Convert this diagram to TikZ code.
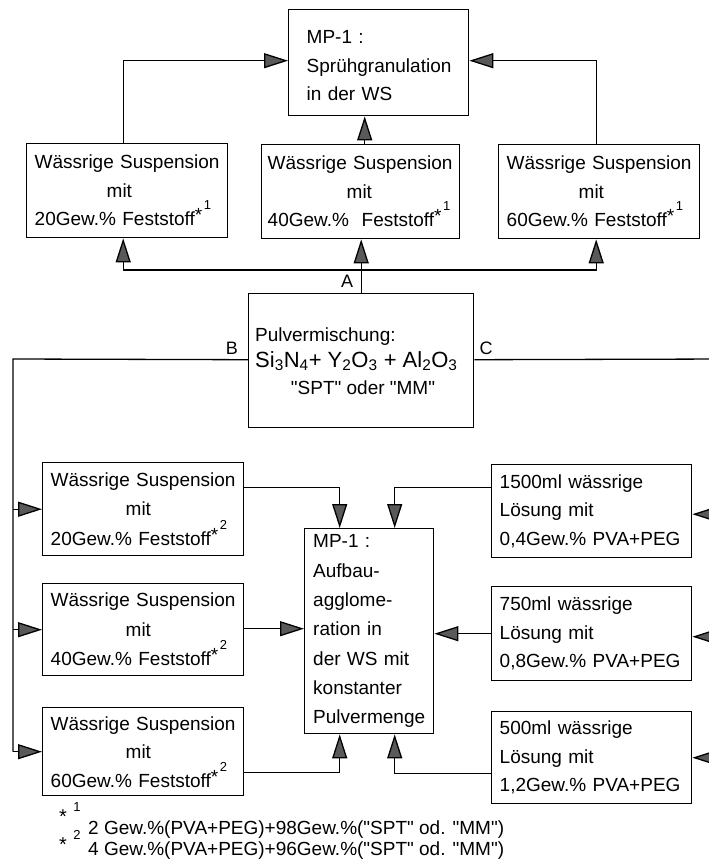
\documentclass[tikz,border=0pt]{standalone}
\usepackage{fontspec}
\setmainfont{Liberation Sans}[Ligatures=TeXOff]
\usepackage{graphicx}
\usetikzlibrary{arrows.meta}

% superscript footnote mark: star followed by a raised number
\newcommand\fmark[1]{\raisebox{4pt}{\fontsize{19}{19}\selectfont *}\hspace{1.5pt}\raisebox{16pt}{\fontsize{13}{13}\selectfont #1}}

\begin{document}
\begin{tikzpicture}[x=1pt,y=-1pt,
  box/.style={draw, line width=1.4pt, rectangle, anchor=north west, inner ysep=0pt,
              align=left, font=\fontsize{19}{28.5}\selectfont},
  conn/.style={line width=1.3pt},
  arr/.style={line width=1.3pt, -{Triangle[length=24pt,width=15pt,fill=black!65]}},
  lbl/.style={inner sep=0pt, font=\fontsize{18}{18}\selectfont},
  foot/.style={inner sep=0pt, anchor=base west, font=\fontsize{19}{19}\selectfont},
  fnstar/.style={inner sep=0pt, font=\fontsize{20}{20}\selectfont}
]
\useasboundingbox (0,0) rectangle (709,865);
\clip (0,0) rectangle (709,865);

% ---- spray granulation branch (A) ----
\node[box, inner xsep=18pt, text width=144pt, minimum height=106pt] (mp) at (288,9)
  {\rule{0pt}{19pt}MP-1 :\\Sprühgranulation\\in der WS};

\node[box, inner xsep=8pt, text width=185pt, minimum height=94pt] (s1) at (26,143)
  {Wässrige Suspension\\\hspace*{72pt}mit\\20Gew.\% Feststoff\fmark{1}};
\node[box, inner xsep=6pt, text width=186pt, minimum height=94pt] (s2) at (261,144)
  {Wässrige Suspension\\\hspace*{79pt}mit\\40Gew.\%\ \ Feststoff\fmark{1}};
\node[box, inner xsep=8pt, text width=185pt, minimum height=94pt] (s3) at (498,144)
  {Wässrige Suspension\\\hspace*{72pt}mit\\60Gew.\% Feststoff\fmark{1}};

% ---- powder mix ----
\node[draw, line width=1.4pt, rectangle, anchor=north west, minimum width=225pt,
      minimum height=134pt, inner sep=0pt] (mix) at (248,293) {};
\node[inner sep=0pt, anchor=base west, font=\fontsize{19}{19}\selectfont] (pm1) at (255,341)
  {Pulvermischung:};
\node[inner sep=0pt, anchor=base west, font=\fontsize{22}{22}\selectfont] (pm2) at (255,367)
  {Si\textsubscript{3}N\textsubscript{4}+ Y\textsubscript{2}O\textsubscript{3} + Al\textsubscript{2}O\textsubscript{3}};
\node[inner sep=0pt, anchor=base, font=\fontsize{19}{19}\selectfont] (pm3) at (363,394)
  {"SPT" oder "MM"};

% ---- build-up agglomeration branch (B / C) ----
\node[box, inner xsep=8.5pt, text width=112pt, minimum height=205pt,
      font=\fontsize{19}{29.3}\selectfont] (c) at (304,528)
  {MP-1 :\\Aufbau-\\agglome-\\ration in\\der WS mit\\konstanter\\Pulvermenge};

\node[box, inner xsep=8pt, text width=185pt, minimum height=93pt,
      font=\fontsize{19}{29.5}\selectfont] (b1) at (42,462)
  {Wässrige Suspension\\\hspace*{75pt}mit\\20Gew.\% Feststoff\fmark{2}};
\node[box, inner xsep=8pt, text width=185pt, minimum height=92pt,
      font=\fontsize{19}{29.5}\selectfont] (b2) at (42,583)
  {Wässrige Suspension\\\hspace*{75pt}mit\\40Gew.\% Feststoff\fmark{2}};
\node[box, inner xsep=8pt, text width=185pt, minimum height=88pt,
      font=\fontsize{19}{28.5}\selectfont] (b3) at (42,707)
  {Wässrige Suspension\\\hspace*{75pt}mit\\60Gew.\% Feststoff\fmark{2}};

\node[box, inner xsep=8pt, text width=184pt, minimum height=93pt] (r1) at (491,464)
  {1500ml wässrige\\Lösung mit\\0,4Gew.\% PVA+PEG};
\node[box, inner xsep=8pt, text width=184pt, minimum height=94pt] (r2) at (491,586)
  {750ml wässrige\\Lösung mit\\0,8Gew.\% PVA+PEG};
\node[box, inner xsep=8pt, text width=184pt, minimum height=92pt] (r3) at (491,711)
  {500ml wässrige\\Lösung mit\\1,2Gew.\% PVA+PEG};

% ---- connectors, branch A ----
\draw[arr] ([xshift=-4pt]s1.north) |- ([yshift=2pt]mp.west);
\draw[arr] ([xshift=-3pt]s3.north) |- ([yshift=2pt]mp.east);
\draw[arr] ([xshift=4pt]s2.north) -- ([xshift=4pt]s2.north |- mp.south);
\coordinate (ja) at (mix.north |- 0,270);
\draw[arr] (mix.north) -- (mix.north |- s2.south);
\draw[arr] (ja) -| ([xshift=-4pt]s1.south);
\draw[arr] (ja) -| ([xshift=-3pt]s3.south);
\node[lbl] (la) at (347,281) {A};

% ---- connectors, branch B ----
\coordinate (bl) at (13,359);
\draw[conn] ([yshift=1pt]mix.west) -- (bl) -- (bl |- b3.west);
\draw[arr] (bl |- b1.west) -- (b1.west);
\draw[arr] (bl |- b2.west) -- (b2.west);
\draw[arr] (bl |- b3.west) -- (b3.west);
\node[lbl] (lb) at (232,348) {B};

% ---- connectors, branch C ----
\coordinate (cr) at (728,359);
\draw[conn] ([yshift=1pt]mix.east) -- (cr) -- (cr |- r3.east);
\draw[arr] ([yshift=-3pt]cr |- r1.east) -- ([yshift=-3pt]r1.east);
\draw[arr] ([yshift=-3pt]cr |- r2.east) -- ([yshift=-3pt]r2.east);
\draw[arr] (cr |- r3.east) -- (r3.east);
\node[lbl] (lc) at (486,348) {C};

% ---- feeds into the agglomeration box ----
\draw[arr] ([yshift=21.5pt]b1.east) -| ([xshift=-29.5pt]c.north);
\draw[arr] ([yshift=23.5pt]r1.west) -| ([xshift=25.5pt]c.north);
\draw[arr] ([yshift=1pt]b2.east) -- ([yshift=1pt]b2.east -| c.west);
\draw[arr] (r2.west) -- (r2.west -| c.east);
\draw[arr] ([yshift=-20.5pt]b3.east) -| ([xshift=-29.5pt]c.south);
\draw[arr] ([yshift=-16pt]r3.west) -| ([xshift=25.5pt]c.south);

% ---- footnotes ----
\node[fnstar] (f1s) at (63,817) {*};
\node[fnstar, font=\fontsize{13}{13}\selectfont] (f1n) at (77,807) {1};
\node[foot] (f1) at (88,834) {2 Gew.\%(PVA+PEG)+98Gew.\%("SPT" od. "MM")};
\node[fnstar] (f2s) at (63,845) {*};
\node[fnstar, font=\fontsize{13}{13}\selectfont] (f2n) at (77,835) {2};
\node[foot] (f2) at (88,855) {4 Gew.\%(PVA+PEG)+96Gew.\%("SPT" od. "MM")};
\end{tikzpicture}
\end{document}
